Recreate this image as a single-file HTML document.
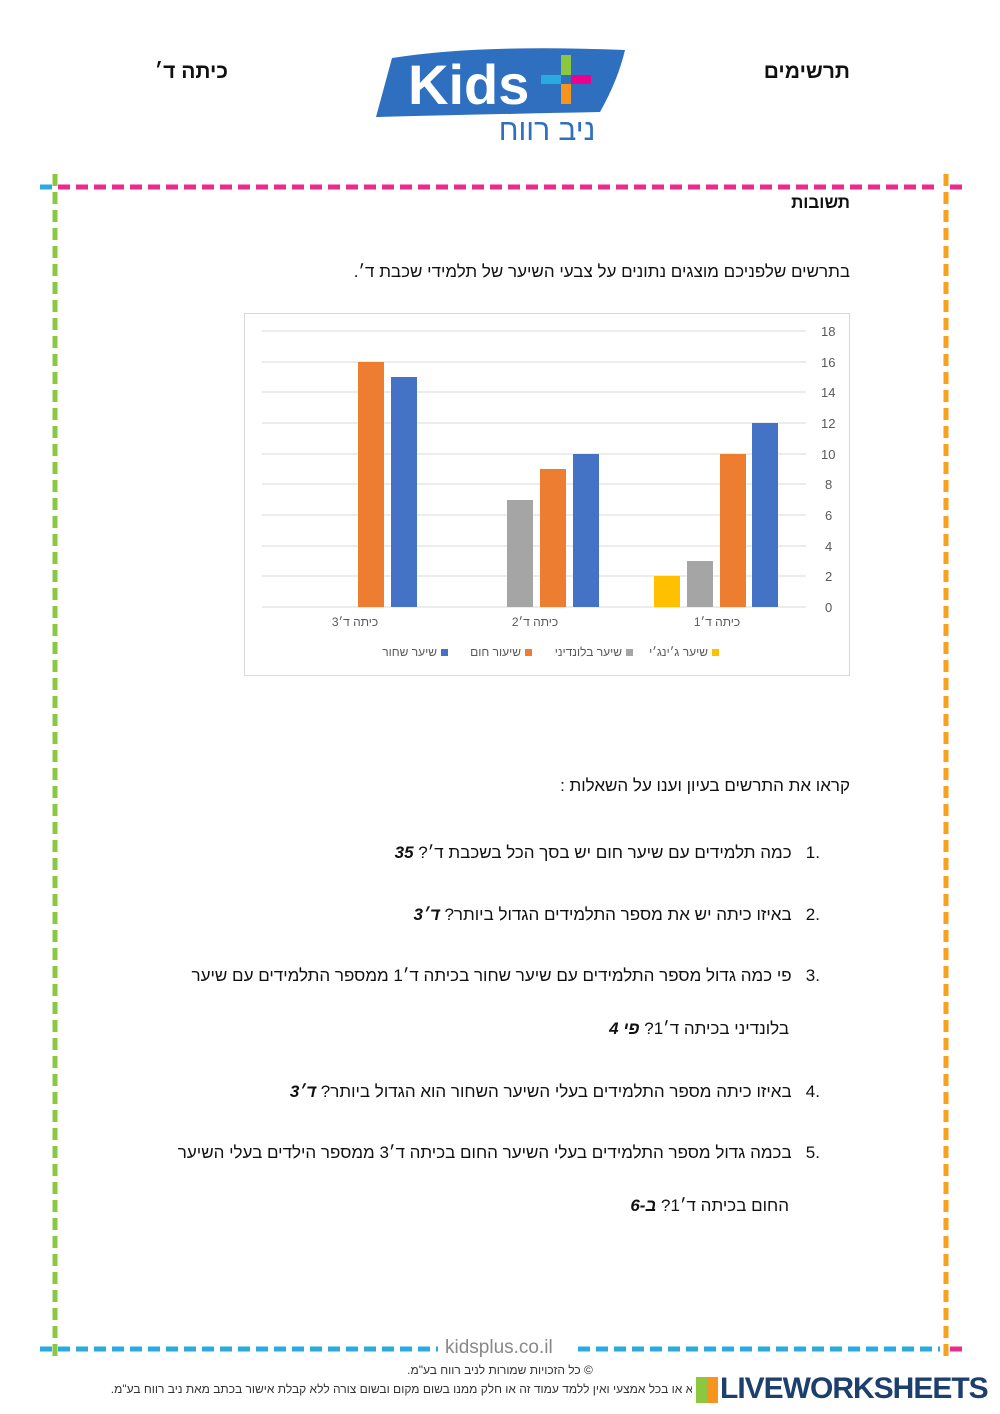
<!DOCTYPE html>
<html><head><meta charset="utf-8"><style>
body{margin:0;width:1000px;height:1414px;background:#fff;position:relative;overflow:hidden;font-family:"Liberation Sans","Noto Sans CJK SC",sans-serif;color:#111}
.t{position:absolute;white-space:nowrap;direction:rtl}
.q{font-size:17px}
.lg{position:absolute;top:645px;font-size:12px;color:#595959;white-space:nowrap;direction:rtl}
.lg i{display:inline-block;width:7px;height:7px;margin-left:4px;vertical-align:0}
</style></head><body>
<svg width="1000" height="1414" style="position:absolute;left:0;top:0">
<path d="M392 58 Q480 44 625 50 Q618 80 600 112 Q500 114 376 117 Z" fill="#2f6fbf"/>
<text x="408" y="104" font-family="Liberation Sans" font-weight="bold" font-size="56" fill="#fff">Kids</text>
<rect x="561" y="55" width="10" height="20" fill="#8dc63f"/>
<rect x="561" y="84" width="10" height="20" fill="#f7941d"/>
<rect x="541" y="75" width="20" height="9" fill="#29abe2"/>
<rect x="571" y="75" width="20" height="9" fill="#ec008c"/>
<text x="547" y="140" font-family="Liberation Sans" font-size="30" fill="#2f6fbf" text-anchor="middle" direction="rtl">ניב רווח</text>
<line x1="58" y1="187" x2="940" y2="187" stroke="#ec2a8c" stroke-width="5" stroke-dasharray="12,6"/>
<line x1="58" y1="1349" x2="438" y2="1349" stroke="#29abe2" stroke-width="5" stroke-dasharray="12,6"/>
<line x1="578" y1="1349" x2="940" y2="1349" stroke="#29abe2" stroke-width="5" stroke-dasharray="12,6"/>
<line x1="55" y1="174" x2="55" y2="1362" stroke="#8dc63f" stroke-width="5" stroke-dasharray="12,6"/>
<line x1="946" y1="174" x2="946" y2="1362" stroke="#f7a21d" stroke-width="5" stroke-dasharray="12,6"/>
<line x1="40" y1="187" x2="52" y2="187" stroke="#29abe2" stroke-width="5"/>
<line x1="950" y1="187" x2="962" y2="187" stroke="#ec2a8c" stroke-width="5"/>
<line x1="40" y1="1349" x2="52" y2="1349" stroke="#29abe2" stroke-width="5"/>
<line x1="950" y1="1349" x2="962" y2="1349" stroke="#ec2a8c" stroke-width="5"/>
<rect x="244.5" y="313.5" width="605" height="362" fill="#fff" stroke="#d9d9d9"/>
<g stroke="#d9d9d9" stroke-width="1">
<line x1="262" y1="331" x2="806" y2="331"/><line x1="262" y1="362" x2="806" y2="362"/>
<line x1="262" y1="392" x2="806" y2="392"/><line x1="262" y1="423" x2="806" y2="423"/>
<line x1="262" y1="454" x2="806" y2="454"/><line x1="262" y1="484" x2="806" y2="484"/>
<line x1="262" y1="515" x2="806" y2="515"/><line x1="262" y1="546" x2="806" y2="546"/>
<line x1="262" y1="576" x2="806" y2="576"/><line x1="262" y1="607" x2="806" y2="607"/>
</g>
<g font-family="Liberation Sans" font-size="13" fill="#595959">
<text x="821" y="336">18</text><text x="821" y="367">16</text><text x="821" y="397">14</text>
<text x="821" y="428">12</text><text x="821" y="459">10</text><text x="825" y="489">8</text>
<text x="825" y="520">6</text><text x="825" y="551">4</text><text x="825" y="581">2</text><text x="825" y="612">0</text>
</g>
<rect x="654" y="576" width="26" height="31" fill="#ffc000"/>
<rect x="687" y="561" width="26" height="46" fill="#a5a5a5"/>
<rect x="720" y="454" width="26" height="153" fill="#ed7d31"/>
<rect x="752" y="423" width="26" height="184" fill="#4472c4"/>
<rect x="507" y="500" width="26" height="107" fill="#a5a5a5"/>
<rect x="540" y="469" width="26" height="138" fill="#ed7d31"/>
<rect x="573" y="454" width="26" height="153" fill="#4472c4"/>
<rect x="358" y="362" width="26" height="245" fill="#ed7d31"/>
<rect x="391" y="377" width="26" height="230" fill="#4472c4"/>
<g font-family="Liberation Sans" font-size="12" fill="#595959" text-anchor="middle" direction="rtl">
<text x="717" y="626">כיתה ד׳1</text><text x="535" y="626">כיתה ד׳2</text><text x="355" y="626">כיתה ד׳3</text>
</g>
</svg>
<div class="lg" style="right:552px"><i style="background:#4472c4"></i>שיער שחור</div>
<div class="lg" style="right:468px"><i style="background:#ed7d31"></i>שיעור חום</div>
<div class="lg" style="right:367px"><i style="background:#a5a5a5"></i>שיער בלונדיני</div>
<div class="lg" style="right:281px"><i style="background:#ffc000"></i>שיער ג׳ינג׳י</div>
<div class="t" style="right:772px;top:60px;font-size:21px;font-weight:bold">כיתה ד׳</div>
<div class="t" style="right:150px;top:60px;font-size:21px;font-weight:bold">תרשימים</div>
<div class="t" style="right:150px;top:193px;font-size:17px;font-weight:bold">תשובות</div>
<div class="t q" style="right:150px;top:262px">בתרשים שלפניכם מוצגים נתונים על צבעי השיער של תלמידי שכבת ד׳.</div>
<div class="t q" style="right:150px;top:776px">קראו את התרשים בעיון וענו על השאלות :</div>
<div class="t q" style="right:180px;top:843px">.1&nbsp;&nbsp;&nbsp;כמה תלמידים עם שיער חום יש בסך הכל בשכבת ד׳? <b><i>35</i></b></div>
<div class="t q" style="right:180px;top:905px">.2&nbsp;&nbsp;&nbsp;באיזו כיתה יש את מספר התלמידים הגדול ביותר? <b><i>ד׳3</i></b></div>
<div class="t q" style="right:180px;top:966px">.3&nbsp;&nbsp;&nbsp;פי כמה גדול מספר התלמידים עם שיער שחור בכיתה ד׳1 ממספר התלמידים עם שיער</div>
<div class="t q" style="right:211px;top:1019px">בלונדיני בכיתה ד׳1? <b><i>פי 4</i></b></div>
<div class="t q" style="right:180px;top:1082px">.4&nbsp;&nbsp;&nbsp;באיזו כיתה מספר התלמידים בעלי השיער השחור הוא הגדול ביותר? <b><i>ד׳3</i></b></div>
<div class="t q" style="right:180px;top:1143px">.5&nbsp;&nbsp;&nbsp;בכמה גדול מספר התלמידים בעלי השיער החום בכיתה ד׳3 ממספר הילדים בעלי השיער</div>
<div class="t q" style="right:211px;top:1196px">החום בכיתה ד׳1? <b><i>ב-6</i></b></div>
<div style="position:absolute;left:445px;top:1337px;font-size:19px;color:#888">kidsplus.co.il</div>
<div class="t" style="left:0;width:1000px;text-align:center;top:1363px;font-size:12px;color:#333">© כל הזכויות שמורות לניב רווח בע"מ.</div>
<div class="t" style="right:130px;top:1382px;font-size:12px;color:#333">אין לשכפל או להעתיק בכל דרך שהיא או בכל אמצעי ואין ללמד עמוד זה או חלק ממנו בשום מקום ובשום צורה ללא קבלת אישור בכתב מאת ניב רווח בע"מ.</div>
<div style="position:absolute;left:692px;top:1374px;width:300px;height:32px;background:#fff"></div>
<div style="position:absolute;left:696px;top:1377px;width:22px;height:26px;background:linear-gradient(90deg,#8dc63f 50%,#f7941d 50%)"></div>
<div style="position:absolute;left:720px;top:1372px;font-size:30px;font-weight:bold;color:#1c3f6e;letter-spacing:-1px">LIVEWORKSHEETS</div>
</body></html>
